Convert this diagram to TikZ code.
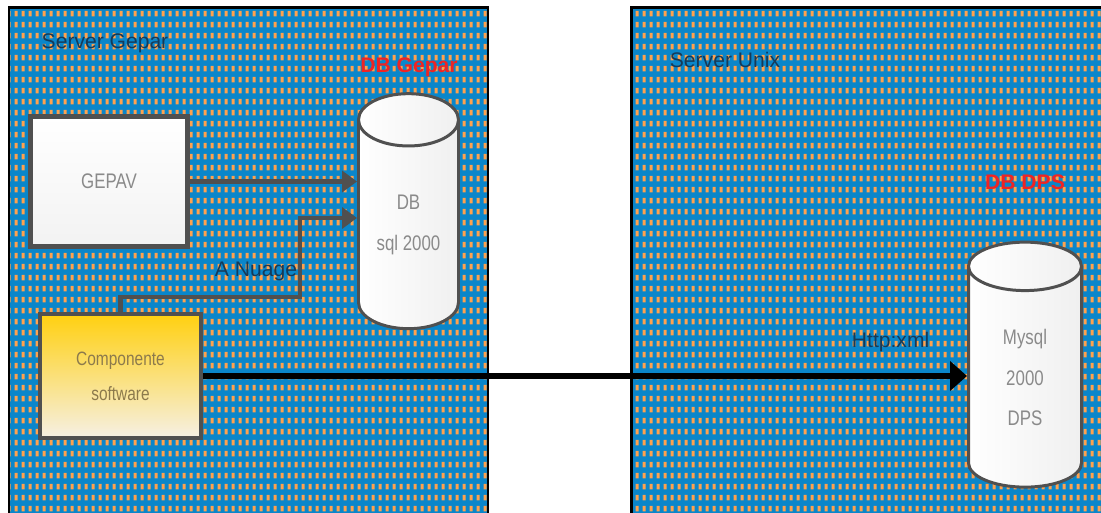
\documentclass[tikz,border=0pt]{standalone}
\usepackage{fontspec}
\setmainfont{Liberation Sans}
\newfontfamily\narrowsans{Liberation Sans}[FakeStretch=0.8]
\usepackage{xcolor}
\usetikzlibrary{shapes.geometric, arrows.meta, patterns}

\definecolor{panelblue}{HTML}{0A86CA}
\definecolor{dotorange}{HTML}{FFA24E}
\definecolor{edgegray}{HTML}{505050}
\definecolor{labelnavy}{HTML}{163A58}
\definecolor{dbred}{HTML}{EE2424}
\definecolor{textgray}{HTML}{8A8A8A}
\definecolor{compgold}{HTML}{FFD010}
\definecolor{compcream}{HTML}{F6F0E4}
\definecolor{compolive}{HTML}{8C7A4C}

% orange dots on the blue server panels
\pgfdeclarepatterninherentlycolored{meshdots}{\pgfpointorigin}{\pgfqpoint{3.97pt}{6.52pt}}{\pgfqpoint{3.97pt}{6.52pt}}{%
  \pgfsetfillcolor{dotorange}%
  \pgfpathrectangle{\pgfqpoint{0.9pt}{1.6pt}}{\pgfqpoint{1.7pt}{3.3pt}}%
  \pgfusepath{fill}}

\begin{document}
\begin{tikzpicture}[
    panel/.style={draw=black, line width=1.7pt, preaction={fill=panelblue}, pattern=meshdots},
    box/.style={draw=edgegray, line width=2.3pt, align=center, inner sep=0pt},
    db/.style={cylinder, shape border rotate=90, draw=edgegray, line width=1.7pt, left color=white, right color=black!6, align=center, inner sep=0pt, text=textgray, font=\narrowsans\fontsize{12}{23}\selectfont},
    link/.style={-{Triangle[length=0.3cm, width=0.42cm]}, line width=2.8pt, draw=edgegray},
    tag/.style={font=\fontsize{12}{14}\selectfont, text=labelnavy},
    dbtag/.style={font=\bfseries\fontsize{12}{14}\selectfont, text=dbred}
]
    \useasboundingbox (0,0) rectangle (22.02,-10.26);

    % Server panels
    \path[panel] (0.18,-0.16) rectangle (9.76,-10.6);
    \path[panel] (12.62,-0.16) rectangle (22.6,-10.6);
    \node[tag] (srvgepar) at (2.1,-0.86) {Server Gepar};
    \node[tag] (srvunix) at (14.5,-1.2) {Server Unix};

    % Gepar side
    \node[box, top color=white, bottom color=black!5, minimum width=3.14cm, minimum height=2.6cm, text=textgray, font=\narrowsans\fontsize{12}{14}\selectfont] (gepav) at (2.18,-3.63) {GEPAV};
    \node[box, top color=compgold, bottom color=compcream, minimum width=3.22cm, minimum height=2.48cm, text=compolive, font=\narrowsans\fontsize{11}{20}\selectfont] (comp) at (2.41,-7.52) {Componente\\software};
    \node[db, aspect=0.82, minimum width=2cm, minimum height=4.7cm] (dbgepar) at (8.17,-4.5) {DB\\sql 2000};
    \node[dbtag] (dbgeparlbl) at (8.18,-1.34) {DB Gepar};

    % DPS side
    \node[db, aspect=1.1, minimum width=2.26cm, minimum height=4.9cm] (dbdps) at (20.5,-7.55) {Mysql\\2000\\DPS};
    \node[dbtag] (dbdpslbl) at (20.5,-3.64) {DB DPS};

    % Links
    \coordinate (kink) at (6.0,-5.94);
    \draw[link] (gepav.east) -- (gepav.east -| dbgepar.west);
    \draw[link] (comp.north) |- (kink) |- ([yshift=0.14cm]dbgepar.west);
    \node[tag] (nuage) at (5.12,-5.42) {A Nuage};
    \draw[-{Triangle[length=0.34cm, width=0.58cm]}, line width=3.4pt] (comp.east) -- (comp.east -| dbdps.west)
        node[tag, pos=0.9, above=0.3cm] {Http:xml};
\end{tikzpicture}
\end{document}
